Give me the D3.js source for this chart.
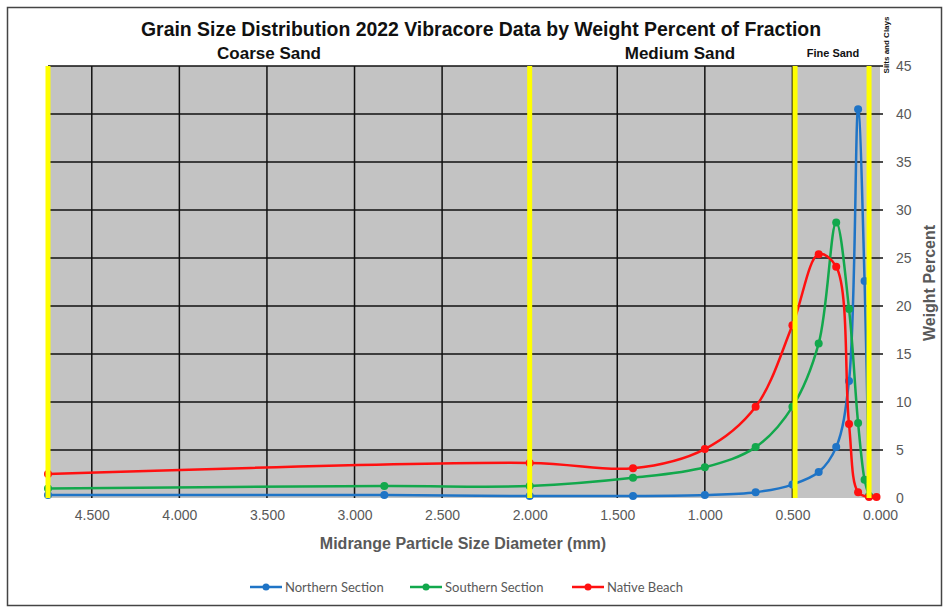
<!DOCTYPE html>
<html><head><meta charset="utf-8">
<script src="https://cdn.jsdelivr.net/npm/d3@7"></script>
<style>
html,body{margin:0;padding:0;background:#fff;}
svg{display:block;}
</style></head>
<body>
<svg id="chart" width="949" height="611"></svg>
<script>
// ---- data ----
const sizes    = [4.75, 2.83, 2.0, 1.41, 1.0, 0.71, 0.5, 0.35, 0.25, 0.177, 0.125, 0.088, 0.0625, 0.02];
const northern = [0.3, 0.3, 0.2, 0.2, 0.3, 0.6, 1.4, 2.7, 5.3, 12.2, 40.5, 22.6, 0.2, null];
const southern = [1.0, 1.25, 1.25, 2.1, 3.2, 5.3, 9.5, 16.1, 28.7, 19.7, 7.8, 1.9, 0.2, null];
const native   = [2.5, null, 3.65, 3.1, 5.1, 9.5, 18.0, 25.4, 24.1, 7.7, 0.6, null, 0.1, 0.1];
const seriesNames = ["Northern Section", "Southern Section", "Native Beach"];
const seriesColors = ["#1f74c6", "#12a84c", "#ff1010"];
const boundaries = [4.75, 2.0, 0.485, 0.0625];
const zoneLabels = ["Coarse Sand", "Medium Sand", "Fine Sand", "Silts and Clays"];
const xTicks = [4.5, 4.0, 3.5, 3.0, 2.5, 2.0, 1.5, 1.0, 0.5, 0.0];
const yTicks = [0, 5, 10, 15, 20, 25, 30, 35, 40, 45];
const title = "Grain Size Distribution 2022 Vibracore Data by Weight Percent of Fraction";
const xTitle = "Midrange Particle Size Diameter (mm)";
const yTitle = "Weight Percent";

// ---- layout ----
const svg = d3.select("#chart");
const x = d3.scaleLinear().domain([4.75, 0]).range([48, 880]);
const y = d3.scaleLinear().domain([0, 45]).range([498, 66]);
const grey = "#595959";

// outer border
svg.append("rect").attr("x", 7.5).attr("y", 7.5).attr("width", 934).attr("height", 598)
  .attr("fill", "#fff").attr("stroke", "#444").attr("stroke-width", 1.5);

// plot background
svg.append("rect").attr("x", x(4.75)).attr("y", y(45))
  .attr("width", x(0) - x(4.75)).attr("height", y(0) - y(45))
  .attr("fill", "#c3c3c3");

// grid lines
svg.append("g").selectAll("line").data(yTicks.filter(d => d > 0)).join("line")
  .attr("x1", x(4.75)).attr("x2", x(0) + 3)
  .attr("y1", d => y(d)).attr("y2", d => y(d))
  .attr("stroke", "#111").attr("stroke-width", 1.5);
svg.append("g").selectAll("line").data(xTicks.filter(d => d > 0)).join("line")
  .attr("x1", d => x(d)).attr("x2", d => x(d))
  .attr("y1", y(45)).attr("y2", y(0))
  .attr("stroke", "#111").attr("stroke-width", 1.5);

// axes labels
const xAxis = d3.axisBottom(x).tickValues(xTicks).tickFormat(d3.format(".3f")).tickSize(0).tickPadding(12);
const gx = svg.append("g").attr("transform", `translate(0,${y(0)})`).call(xAxis);
gx.select(".domain").remove();
gx.selectAll("text").attr("fill", grey).style("font", "14px 'Liberation Sans', Arial, sans-serif");

const yAxis = d3.axisRight(y).tickValues(yTicks).tickSize(0).tickPadding(16);
const gy = svg.append("g").attr("transform", `translate(${x(0)},0)`).call(yAxis);
gy.select(".domain").remove();
gy.selectAll("text").attr("fill", grey).style("font", "14px 'Liberation Sans', Arial, sans-serif");

// series
const allSeries = [northern, southern, native];
const line = d3.line().x(d => x(d.s)).y(d => y(d.v)).curve(d3.curveCatmullRom.alpha(0.5));
allSeries.forEach((vals, i) => {
  const pts = sizes.map((s, j) => ({s, v: vals[j]})).filter(d => d.v != null);
  const g = svg.append("g");
  g.append("path").datum(pts).attr("d", line).attr("fill", "none")
    .attr("stroke", seriesColors[i]).attr("stroke-width", 2.5);
  g.selectAll("circle").data(pts).join("circle")
    .attr("cx", d => x(d.s)).attr("cy", d => y(d.v)).attr("r", 4)
    .attr("fill", seriesColors[i]);
});

// boundary lines (yellow)
svg.append("g").selectAll("line").data(boundaries).join("line")
  .attr("x1", d => x(d)).attr("x2", d => x(d))
  .attr("y1", y(45)).attr("y2", y(0))
  .attr("stroke", "#ffff00").attr("stroke-width", 5);

// title
svg.append("text").attr("x", 481).attr("y", 36).attr("text-anchor", "middle")
  .attr("fill", "#111").style("font", "bold 21px 'Liberation Sans Narrow', 'Liberation Sans', Arial, sans-serif")
  .attr("textLength", 680).attr("lengthAdjust", "spacingAndGlyphs")
  .text(title);

// zone labels
const zoneStyle = "bold 17px 'Liberation Sans Narrow', 'Liberation Sans', Arial, sans-serif";
svg.append("text").attr("x", 269).attr("y", 59).attr("text-anchor", "middle").attr("fill", "#111")
  .style("font", zoneStyle).text(zoneLabels[0]);
svg.append("text").attr("x", 680).attr("y", 59).attr("text-anchor", "middle").attr("fill", "#111")
  .style("font", zoneStyle).text(zoneLabels[1]);
svg.append("text").attr("x", 833).attr("y", 57).attr("text-anchor", "middle").attr("fill", "#111")
  .style("font", "bold 11px 'Liberation Sans Narrow', 'Liberation Sans', Arial, sans-serif").text(zoneLabels[2]);
svg.append("text").attr("transform", "translate(889,45) rotate(-90)").attr("text-anchor", "middle")
  .attr("fill", "#111").style("font", "bold 8px 'Liberation Sans Narrow', 'Liberation Sans', Arial, sans-serif")
  .text(zoneLabels[3]);

// axis titles
svg.append("text").attr("x", 463).attr("y", 549).attr("text-anchor", "middle").attr("fill", grey)
  .style("font", "bold 16px 'Liberation Sans', Arial, sans-serif").text(xTitle);
svg.append("text").attr("transform", "translate(935,283) rotate(-90)").attr("text-anchor", "middle")
  .attr("fill", grey).style("font", "bold 16px 'Liberation Sans', Arial, sans-serif").text(yTitle);

// legend
const legendX = [250, 410, 572];
seriesNames.forEach((name, i) => {
  const g = svg.append("g").attr("transform", `translate(${legendX[i]},587)`);
  g.append("line").attr("x1", 0).attr("x2", 32).attr("y1", 0).attr("y2", 0)
    .attr("stroke", seriesColors[i]).attr("stroke-width", 2.5);
  g.append("circle").attr("cx", 16).attr("cy", 0).attr("r", 3.5).attr("fill", seriesColors[i]);
  g.append("text").attr("x", 35).attr("y", 4.5).attr("fill", grey)
    .style("font", "13px Lato, 'Open Sans', sans-serif").text(name);
});
</script>
</body></html>
